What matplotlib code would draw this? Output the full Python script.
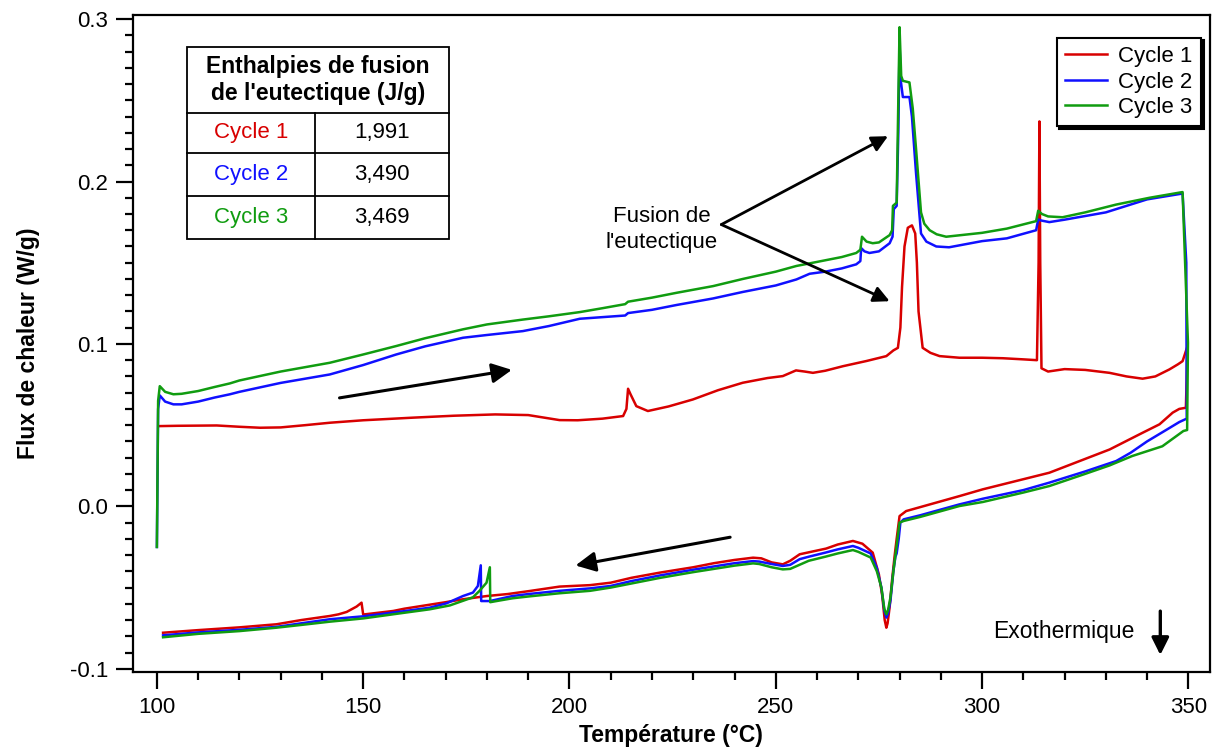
import matplotlib.pyplot as plt
from matplotlib.patches import Rectangle
from matplotlib.ticker import MultipleLocator

plt.rcParams['font.family'] = ['Liberation Sans', 'DejaVu Sans']

# Cycle 1 : chauffe puis refroidissement (T en °C, flux en W/g)
T_chauffe_1 = [100.4, 105, 110, 114.5, 120, 125, 130, 136, 142, 150, 162, 172, 182, 190,
               197.6, 202, 208, 213, 213.8, 214.2, 214.8, 216.2, 219, 224, 229.9, 236, 242,
               248, 251.7, 254.9, 257, 259, 262, 266.3, 272, 276.8, 278.5, 279.6, 280.2,
               280.6, 281.2, 282.0, 283.0, 283.8, 284.2, 284.6, 285.6, 287.5, 289.7, 294.5,
               300, 305, 310, 313.3, 313.7, 313.9, 314.1, 314.4, 316, 320, 325, 330.9, 335,
               338.9, 342, 345.4, 347.5, 348.6, 349.8]
F_chauffe_1 = [0.0494, 0.0496, 0.0497, 0.0498, 0.0490, 0.0484, 0.0486, 0.0500, 0.0515, 0.0530,
               0.0546, 0.0558, 0.0566, 0.0562, 0.0531, 0.0530, 0.0540, 0.0556, 0.0600, 0.0724,
               0.0690, 0.0617, 0.0587, 0.0615, 0.0658, 0.0715, 0.0761, 0.0790, 0.0802, 0.0837,
               0.0830, 0.0822, 0.0835, 0.0863, 0.0895, 0.0925, 0.0960, 0.0976, 0.110, 0.135,
               0.160, 0.1715, 0.1730, 0.168, 0.150, 0.120, 0.0976, 0.0945, 0.0925, 0.0915,
               0.0915, 0.0912, 0.0905, 0.0900, 0.150, 0.237, 0.150, 0.0850, 0.0830, 0.0845,
               0.0840, 0.0822, 0.0800, 0.0786, 0.0800, 0.0843, 0.0875, 0.0894, 0.0987]
T_refroid_1 = [349.4, 347.8, 346.2, 343.0, 338.9, 330.9, 316.3, 300.2, 294.5, 281.6, 280,
               279.3, 278.8, 278.2, 277.6, 277.1, 276.8, 276.4, 275.8, 275, 273.5, 271, 268.7,
               265, 262.2, 255.8, 253.5, 251.7, 249, 246.5, 244.5, 240, 235, 230, 221.9, 215,
               210, 205, 197.6, 190.4, 185, 180, 174.2, 170, 160, 157.3, 152, 150, 149.6, 148.4,
               146, 144, 141.9, 135, 129, 120, 110, 101.5]
F_refroid_1 = [0.0607, 0.0600, 0.0577, 0.0505, 0.0453, 0.0350, 0.0207, 0.0105, 0.0063, -0.0029,
               -0.0060, -0.0200, -0.0306, -0.0450, -0.0620, -0.0720, -0.0747, -0.0700, -0.0550,
               -0.0420, -0.0285, -0.0230, -0.0213, -0.0235, -0.0260, -0.0295, -0.0335, -0.0357,
               -0.0345, -0.0320, -0.0316, -0.0330, -0.0350, -0.0375, -0.0408, -0.0440, -0.0470,
               -0.0485, -0.0494, -0.0521, -0.0540, -0.0552, -0.0572, -0.0590, -0.0630, -0.0644,
               -0.0660, -0.0666, -0.0593, -0.0617, -0.0650, -0.0665, -0.0675, -0.0700, -0.0726,
               -0.0745, -0.0762, -0.0778]

# Cycle 2
T_chauffe_2 = [100.0, 100.3, 100.7, 102, 104, 106, 110, 114, 117.7, 120, 130, 141.9, 150, 158,
               165, 174.2, 180, 188.7, 195, 202.5, 208, 213.5, 214.2, 220, 226, 234.8, 242,
               250, 255, 258.2, 262, 266, 269.5, 270.5, 270.7, 271.5, 272.7, 275, 277.6, 278.3,
               278.6, 279.3, 279.7, 280.0, 280.3, 280.8, 282.4, 283, 284, 285.2, 286.5, 288.9,
               292, 300, 306, 313.1, 313.6, 314.3, 316.3, 320, 330, 340, 348.6, 349.5]
F_chauffe_2 = [-0.025, 0.060, 0.0683, 0.0645, 0.0628, 0.0628, 0.0645, 0.0670, 0.0690, 0.0705,
               0.0760, 0.0812, 0.0870, 0.0935, 0.0985, 0.1038, 0.1055, 0.1079, 0.1110, 0.1155,
               0.1165, 0.1175, 0.1190, 0.1210, 0.1240, 0.1280, 0.1320, 0.1360, 0.1397, 0.1432,
               0.1445, 0.1465, 0.1490, 0.1510, 0.1590, 0.1570, 0.1560, 0.1570, 0.1620, 0.1660,
               0.1830, 0.1850, 0.2300, 0.2850, 0.2620, 0.2520, 0.2520, 0.2400, 0.2050, 0.1680,
               0.1630, 0.1600, 0.1595, 0.1633, 0.1650, 0.1700, 0.1766, 0.1760, 0.1750, 0.1765,
               0.1810, 0.1890, 0.1926, 0.1500]
T_refroid_2 = [349.6, 347.8, 344.6, 340, 336, 332.5, 325, 316.3, 310, 300.2, 294.5, 285, 281,
               280.2, 279.8, 279.3, 279.0, 278.5, 277.8, 277.2, 276.8, 276.3, 275.6, 274.5, 273,
               270, 268.7, 265, 262, 258, 255.8, 253.5, 251.7, 249, 246, 244.5, 240, 235, 230,
               222, 215, 210, 205, 197.6, 190, 186.2, 180.7, 178.6, 178.5, 177.8, 176.6, 174.2,
               170.2, 166.1, 160, 150, 141.9, 135, 129, 120, 110, 101.5]
F_refroid_2 = [0.0540, 0.0519, 0.0470, 0.0400, 0.0330, 0.0279, 0.0215, 0.0146, 0.0100, 0.0047,
               0.0012, -0.0055, -0.0080, -0.0100, -0.0200, -0.0290, -0.0310, -0.0400, -0.0580,
               -0.0660, -0.0685, -0.0640, -0.0500, -0.0380, -0.0290, -0.0255, -0.0244, -0.0265,
               -0.0285, -0.0310, -0.0325, -0.0360, -0.0367, -0.0355, -0.0340, -0.0337, -0.0350,
               -0.0370, -0.0390, -0.0425, -0.0460, -0.0490, -0.0505, -0.0520, -0.0540, -0.0552,
               -0.0583, -0.0583, -0.0363, -0.0490, -0.0531, -0.0552, -0.0597, -0.0624, -0.0645,
               -0.0677, -0.0695, -0.0720, -0.0742, -0.0760, -0.0776, -0.0794]

# Cycle 3
T_chauffe_3 = [100.0, 100.3, 100.7, 102, 104, 106, 110, 114, 117.7, 120, 130, 141.9, 150, 158,
               165, 174.2, 180, 188.7, 195, 202.5, 208, 213.5, 214.2, 220, 226, 234.8, 242,
               250, 255, 262, 266, 269.5, 270.5, 270.9, 272, 273.5, 275, 277.6, 278.2, 278.4,
               279.3, 279.7, 280.0, 280.4, 280.8, 282.4, 283.2, 284, 285.2, 286, 287.3, 289,
               291.3, 300, 306, 313.1, 313.6, 314.5, 316, 319.5, 325, 332.5, 340.6, 348.6, 349.9]
F_chauffe_3 = [-0.025, 0.065, 0.0740, 0.0705, 0.0690, 0.0693, 0.0710, 0.0735, 0.0757, 0.0775,
               0.0830, 0.0884, 0.0935, 0.0987, 0.1035, 0.1090, 0.1120, 0.1150, 0.1170, 0.1196,
               0.1220, 0.1245, 0.1260, 0.1285, 0.1315, 0.1356, 0.1400, 0.1445, 0.1480, 0.1515,
               0.1535, 0.1560, 0.1580, 0.1660, 0.1630, 0.1620, 0.1625, 0.1670, 0.1700, 0.1850,
               0.1870, 0.2500, 0.2950, 0.2650, 0.2620, 0.2610, 0.2450, 0.2200, 0.1810, 0.1740,
               0.1700, 0.1675, 0.1660, 0.1684, 0.1710, 0.1756, 0.1820, 0.1800, 0.1785, 0.1780,
               0.1810, 0.1858, 0.1900, 0.1935, 0.1007]
T_refroid_3 = [349.7, 348.8, 343.7, 336.4, 330.9, 325, 316.3, 310, 300.2, 294.5, 285, 281, 280,
               279.5, 279.0, 278.5, 277.8, 277.2, 276.8, 276.3, 275.6, 274.5, 273, 270, 268.7,
               265, 262, 258, 253.5, 251.7, 249, 246, 244.5, 240, 235, 230, 222, 215, 210, 205,
               197.6, 190, 186.2, 183, 180.8, 180.7, 179.9, 178.2, 176.6, 171, 166.1, 160, 150,
               141.9, 135, 129, 120, 110, 101.5]
F_refroid_3 = [0.0470, 0.0464, 0.0370, 0.0310, 0.0252, 0.0200, 0.0125, 0.0085, 0.0027, 0.0002,
               -0.0065, -0.0090, -0.0100, -0.0200, -0.0300, -0.0400, -0.0560, -0.0640, -0.0665,
               -0.0630, -0.0500, -0.0400, -0.0315, -0.0280, -0.0269, -0.0290, -0.0310, -0.0335,
               -0.0385, -0.0388, -0.0375, -0.0355, -0.0351, -0.0365, -0.0385, -0.0405, -0.0440,
               -0.0475, -0.0500, -0.0520, -0.0535, -0.0555, -0.0566, -0.0580, -0.0590, -0.0375,
               -0.0470, -0.0520, -0.0560, -0.0610, -0.0634, -0.0655, -0.0690, -0.0710, -0.0730,
               -0.0747, -0.0768, -0.0785, -0.0806]

cycles = ['Cycle 1', 'Cycle 2', 'Cycle 3']
couleurs = ['#d80000', '#1010ff', '#109c10']
enthalpies = ['1,991', '3,490', '3,469']

courbes = [(T_chauffe_1 + T_refroid_1, F_chauffe_1 + F_refroid_1),
           (T_chauffe_2 + T_refroid_2, F_chauffe_2 + F_refroid_2),
           (T_chauffe_3 + T_refroid_3, F_chauffe_3 + F_refroid_3)]

fig = plt.figure(figsize=(12.12, 7.55), dpi=100)
ax = fig.add_axes([0.1097, 0.1099, 0.8885, 0.8702])

for (T, F), nom, c in zip(courbes, cycles, couleurs):
    ax.plot(T, F, color=c, lw=1.8, label=nom)

ax.set_xlim(94.2, 355.2)
ax.set_ylim(-0.102, 0.3025)
ax.xaxis.set_major_locator(MultipleLocator(50))
ax.xaxis.set_minor_locator(MultipleLocator(10))
ax.yaxis.set_major_locator(MultipleLocator(0.1))
ax.yaxis.set_minor_locator(MultipleLocator(0.01))
ax.set_yticks([-0.1, 0.0, 0.1, 0.2, 0.3])
ax.set_yticklabels(['-0.1', '0.0', '0.1', '0.2', '0.3'])
ax.tick_params(which='major', direction='out', length=12, width=1.6, labelsize=16, pad=6)
ax.tick_params(which='minor', direction='out', length=6, width=1.6)
for s in ax.spines.values():
    s.set_linewidth(1.6)

ax.set_xlabel('Température (°C)', fontsize=16.5, fontweight='bold', labelpad=4)
ax.set_ylabel('Flux de chaleur (W/g)', fontsize=16.5, fontweight='bold', labelpad=21)

leg = ax.legend(loc='upper right', bbox_to_anchor=(0.992, 0.9655), borderaxespad=0,
                fontsize=16, fancybox=False, framealpha=1, edgecolor='black',
                handlelength=1.9, handletextpad=0.5, labelspacing=0.2, borderpad=0.38,
                shadow={'color': 'black', 'alpha': 1})
leg.get_frame().set_linewidth(1.5)
for l in leg.get_lines():
    l.set_linewidth(1.8)

# Tableau des enthalpies
x0, xm, x1 = 0.0504, 0.1689, 0.2935
lignes_y = [0.9508, 0.8514, 0.7904, 0.7245, 0.6586]
ax.add_patch(Rectangle((x0, lignes_y[-1]), x1 - x0, lignes_y[0] - lignes_y[-1],
                       transform=ax.transAxes, fill=False, lw=1.3, ec='black', zorder=5))
for y in lignes_y[1:-1]:
    ax.plot([x0, x1], [y, y], transform=ax.transAxes, color='black', lw=1.3, zorder=5)
ax.plot([xm, xm], [lignes_y[1], lignes_y[-1]], transform=ax.transAxes, color='black', lw=1.3,
        zorder=5)
ax.text((x0 + x1) / 2, (lignes_y[0] + lignes_y[1]) / 2,
        "Enthalpies de fusion\nde l'eutectique (J/g)", transform=ax.transAxes,
        ha='center', va='center', fontsize=16.5, fontweight='bold', linespacing=1.2)
for i in range(3):
    yc = (lignes_y[i + 1] + lignes_y[i + 2]) / 2
    ax.text((x0 + xm) / 2, yc, cycles[i], transform=ax.transAxes, ha='center', va='center',
            fontsize=16, color=couleurs[i])
    ax.text((xm + x1) / 2, yc, enthalpies[i], transform=ax.transAxes, ha='center',
            va='center', fontsize=16)

# Sens de balayage
fleche = dict(arrowstyle='-|>', color='black', lw=2.2, mutation_scale=30)
ax.annotate('', xy=(186.7, 0.0843), xytext=(143.6, 0.0665), arrowprops=fleche)
ax.annotate('', xy=(200.8, -0.0367), xytext=(239.6, -0.0187), arrowprops=fleche)

# Pics de fusion
fleche_fusion = dict(arrowstyle='-|>', color='black', lw=2, mutation_scale=24,
                     shrinkA=0, shrinkB=0)
ax.annotate('', xy=(277.2, 0.2279), xytext=(236.8, 0.1735), arrowprops=fleche_fusion)
ax.annotate('', xy=(277.6, 0.1263), xytext=(236.8, 0.1735), arrowprops=fleche_fusion)
ax.text(222.3, 0.1705, "Fusion de\nl'eutectique", ha='center', va='center', fontsize=16,
        linespacing=1.3)

ax.text(319.7, -0.0772, 'Exothermique', ha='center', va='center', fontsize=16.5)
ax.annotate('', xy=(343.2, -0.0915), xytext=(343.2, -0.0645),
            arrowprops=dict(arrowstyle='-|>', color='black', lw=2.4, mutation_scale=26,
                            shrinkA=0, shrinkB=0))

fig.savefig('out.png', dpi=100)
